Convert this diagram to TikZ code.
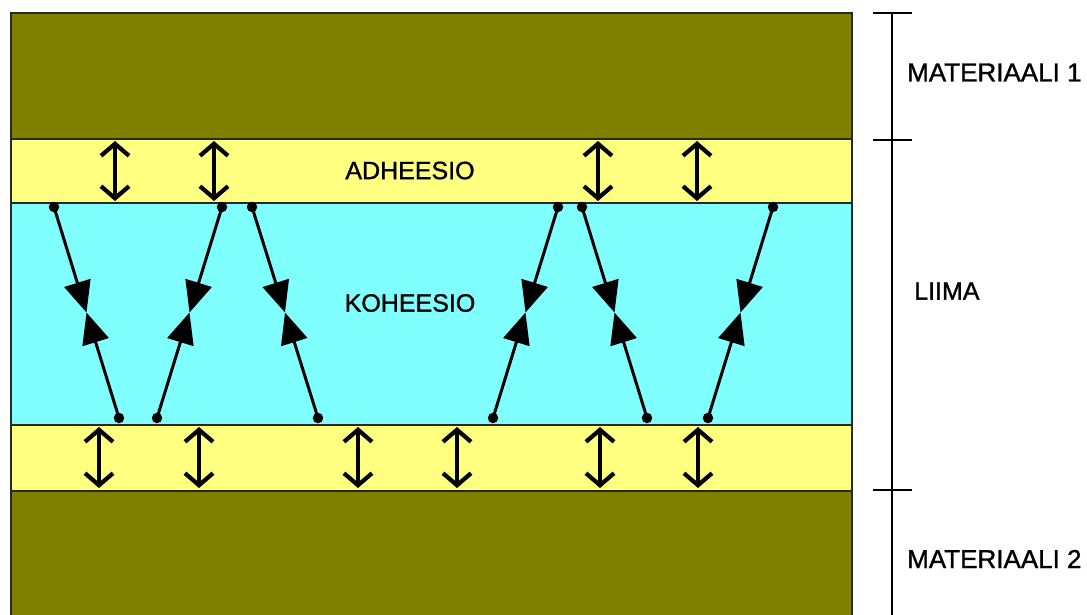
\documentclass[tikz,border=0pt]{standalone}
\usepackage{fontspec}
\setmainfont{Liberation Sans}
\newfontfamily\lblfont[FakeBold=1.2]{Liberation Sans}
\usetikzlibrary{arrows.meta,calc}
\definecolor{olivebg}{RGB}{128,128,0}
\definecolor{gluecol}{RGB}{255,255,128}
\definecolor{cohcol}{RGB}{128,255,255}
\definecolor{edgecol}{RGB}{40,40,40}
\begin{document}
\begin{tikzpicture}[x=1pt,y=-1pt,
  layerborder/.style={edgecol,line width=1.6pt},
  scalebar/.style={black,line width=2.6pt},
  adh/.style={black,line width=4.2pt,{Straight Barb[length=12pt,width=28pt]}-{Straight Barb[length=12pt,width=28pt]}},
  coh/.style={black,line width=3pt,-{Triangle[length=31pt,width=27pt]}},
  enddot/.style={circle,fill=black,inner sep=0pt,minimum size=10.5pt},
  lbl/.style={font=\lblfont\fontsize{25}{28}\selectfont,inner sep=0pt},
  biglbl/.style={font=\lblfont\fontsize{26}{30}\selectfont,inner sep=0pt}]
\useasboundingbox (0,0) rectangle (1087,614);
\fill[white] (0,0) rectangle (1087,614);
% layers
\fill[olivebg] (11,13) rectangle (852,139);
\fill[gluecol] (11,139) rectangle (852,203);
\fill[cohcol] (11,203) rectangle (852,425);
\fill[gluecol] (11,425) rectangle (852,491);
\fill[olivebg] (11,491) rectangle (852,630);
\draw[layerborder] (11,630) -- (11,13) -- (852,13) -- (852,630);
\foreach \yy in {139,203,425,491} \draw[layerborder] (11,\yy) -- (852,\yy);
% scale bar
\coordinate (bartop) at (892,13);
\coordinate (barbot) at (892,630);
\draw[scalebar] (bartop) -- (barbot);
\foreach \yy in {13,140,490} \draw[scalebar] (873,\yy) -- (912,\yy);
% labels
\node[biglbl,anchor=west] (m1) at (907,72.5) {MATERIAALI 1};
\node[lbl,anchor=west] (liima) at (914,291) {LIIMA};
\node[biglbl,anchor=west] (m2) at (907,559) {MATERIAALI 2};
\node[lbl] (adhl) at (410,170.5) {ADHEESIO};
\node[lbl] (cohl) at (410,303) {KOHEESIO};
% adhesion arrows top
\foreach \xx [count=\i] in {115,214,598,697}{
  \coordinate (ta\i) at (\xx,141);
  \coordinate (tb\i) at (\xx,201);
  \draw[adh] (ta\i) -- (tb\i);
}
% adhesion arrows bottom
\foreach \xx [count=\i] in {99,199,358,457,600,698}{
  \coordinate (ba\i) at (\xx,427);
  \coordinate (bb\i) at (\xx,488);
  \draw[adh] (ba\i) -- (bb\i);
}
% cohesion lines
\foreach \xt/\xb [count=\i] in {54/119,222/157,252/318,558/493,582/647,773/708}{
  \node[enddot] (ct\i) at (\xt,207) {};
  \node[enddot] (cb\i) at (\xb,418) {};
  \coordinate (cm\i) at ($(ct\i.center)!0.5!(cb\i.center)$);
  \draw[coh] (ct\i.center) -- (cm\i);
  \draw[coh] (cb\i.center) -- (cm\i);
}
\end{tikzpicture}
\end{document}
